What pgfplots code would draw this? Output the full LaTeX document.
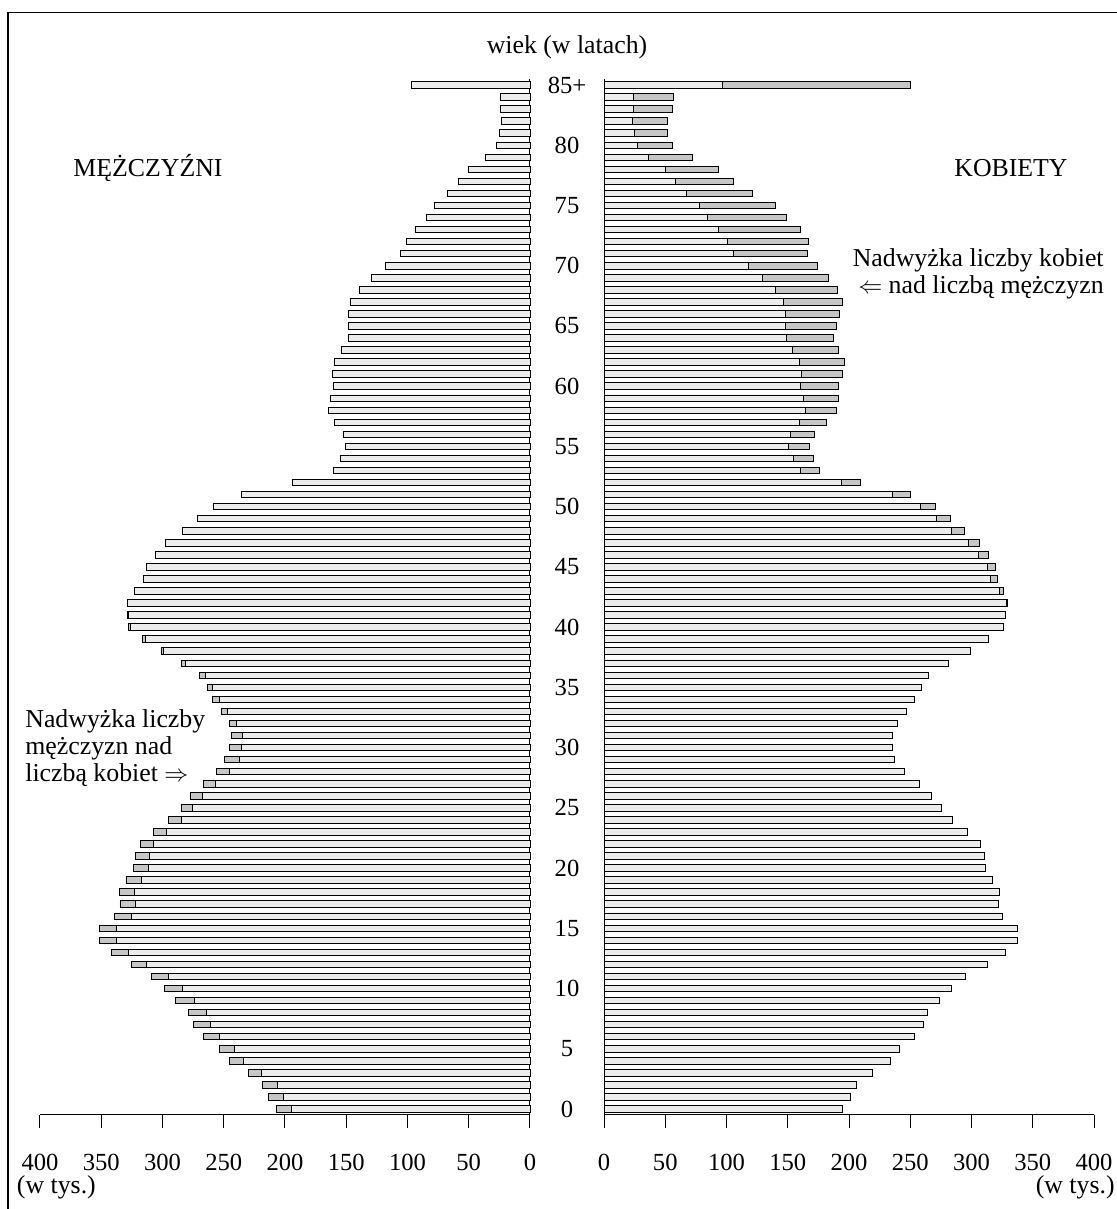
\documentclass[border=0pt]{standalone}
\usepackage{fontspec}
\setmainfont{Liberation Serif}
\usepackage{pgfplots}
\usepackage{pgfplotstable}
\pgfplotsset{compat=1.18}
\definecolor{lightb}{RGB}{236,236,236}
\definecolor{darkb}{RGB}{198,198,198}
\pgfplotstableread{
age M W
0 206.8 195.0
1 213.3 201.5
2 218.0 206.3
3 229.9 219.5
4 245.2 234.0
5 253.6 241.5
6 266.7 253.8
7 274.5 261.0
8 278.6 264.4
9 289.2 274.0
10 298.5 284.0
11 308.8 295.2
12 325.2 312.7
13 342.0 327.5
14 351.8 337.3
15 351.8 337.3
16 339.6 325.5
17 334.7 322.2
18 335.5 322.8
19 329.8 317.5
20 323.5 311.2
21 322.2 310.3
22 318.4 307.5
23 307.2 296.5
24 295.0 284.7
25 284.9 275.8
26 277.0 267.4
27 266.4 257.1
28 255.8 245.5
29 249.2 237.5
30 245.7 235.4
31 243.5 235.1
32 245.7 239.6
33 252.2 246.6
34 259.0 253.2
35 263.7 259.1
36 270.2 265.0
37 284.3 281.1
38 301.0 298.9
39 316.7 314.0
40 327.9 325.9
41 328.4 327.7
42 328.3 329.0
43 323.0 325.8
44 315.6 320.9
45 312.7 319.2
46 305.8 314.1
47 297.4 306.7
48 283.8 294.0
49 271.3 283.1
50 258.2 270.6
51 235.6 249.9
52 194.0 209.1
53 160.5 176.0
54 154.8 170.8
55 150.5 167.8
56 152.0 171.6
57 159.5 181.7
58 164.6 190.0
59 163.0 191.7
60 160.5 191.2
61 161.0 194.4
62 159.5 196.0
63 153.7 191.2
64 148.6 187.0
65 148.0 189.8
66 148.0 192.3
67 146.4 195.0
68 139.6 190.9
69 129.3 183.0
70 118.0 174.3
71 105.6 165.9
72 101.0 167.0
73 93.3 160.4
74 84.4 148.7
75 78.0 139.8
76 67.0 121.0
77 58.5 106.0
78 50.0 93.5
79 36.2 72.1
80 27.2 55.7
81 24.8 51.7
82 23.1 51.7
83 24.2 55.7
84 24.2 56.6
85 96.8 250.2
}\pop
\begin{document}
\fontsize{12.9}{15}\selectfont
\begin{tikzpicture}
\useasboundingbox (0,0) rectangle (558.5pt,604.5pt);
\draw[line width=0.6pt] (4pt,0pt) -- (4pt,598.25pt) -- (560pt,598.25pt);
\pgfplotsset{
  pyr/.style={
    scale only axis, width=245pt, height=518pt,
    ymin=-0.5, ymax=85.5,
    axis x line*=bottom,
    axis line style={-, line width=0.5pt},
    tick style={line width=0.5pt, black},
    tick align=outside,
    major tick length=6.5pt,
    xtick pos=bottom,
    /pgf/number format/assume math mode=true,
    ticklabel style={font=\fontsize{12.3}{15}\selectfont},
    xticklabel style={anchor=base, yshift=-21pt},
    clip=false,
  },
  barM/.style={xbar, bar shift=0pt, bar width=0.54, draw=black, line width=0.45pt},
}
% men (left)
\begin{axis}[pyr, at={(20pt,47pt)}, anchor=south west,
  xmin=-400, xmax=0,
  axis y line*=right, ytick=\empty,
  xtick={-400,-350,-300,-250,-200,-150,-100,-50,0},
  xticklabels={400,350,300,250,200,150,100,50,0}]
\addplot[barM, fill=darkb] table[x expr={-\thisrow{M}}, y=age]{\pop};
\addplot[barM, fill=lightb] table[x expr={-min(\thisrow{M},\thisrow{W})}, y=age]{\pop};
\end{axis}
% women (right)
\begin{axis}[pyr, at={(302pt,47pt)}, anchor=south west,
  xmin=0, xmax=400,
  axis y line*=left,
  ytick={0,5,10,15,20,25,30,35,40,45,50,55,60,65,70,75,80,85},
  yticklabels={0,5,10,15,20,25,30,35,40,45,50,55,60,65,70,75,80,85+},
  y tick style={draw=none},
  yticklabel style={anchor=center, xshift=-12pt},
  xtick={0,50,100,150,200,250,300,350,400}]
\addplot[barM, fill=darkb] table[x=W, y=age]{\pop};
\addplot[barM, fill=lightb] table[x expr={min(\thisrow{M},\thisrow{W})}, y=age]{\pop};
\end{axis}
% texts
\node at (283.5pt,581pt) {wiek (w latach)};
\node at (74pt,520.5pt) {MĘŻCZYŹNI};
\node at (505.5pt,520.5pt) {KOBIETY};
\node[anchor=base east, inner sep=0pt] at (552pt,471pt) {Nadwyżka liczby kobiet};
\node[anchor=base east, inner sep=0pt] at (552pt,457.5pt) {$\Leftarrow$ nad liczbą mężczyzn};
\node[anchor=base west, inner sep=0pt] at (12.5pt,240.5pt) {Nadwyżka liczby};
\node[anchor=base west, inner sep=0pt] at (12.5pt,227pt) {mężczyzn nad};
\node[anchor=base west, inner sep=0pt] at (12.5pt,213.5pt) {liczbą kobiet $\Rightarrow$};
\node[anchor=base west, inner sep=0pt] at (8.3pt,8pt) {(w tys.)};
\node[anchor=base east, inner sep=0pt] at (557.5pt,7.5pt) {(w tys.)};
\end{tikzpicture}
\end{document}
